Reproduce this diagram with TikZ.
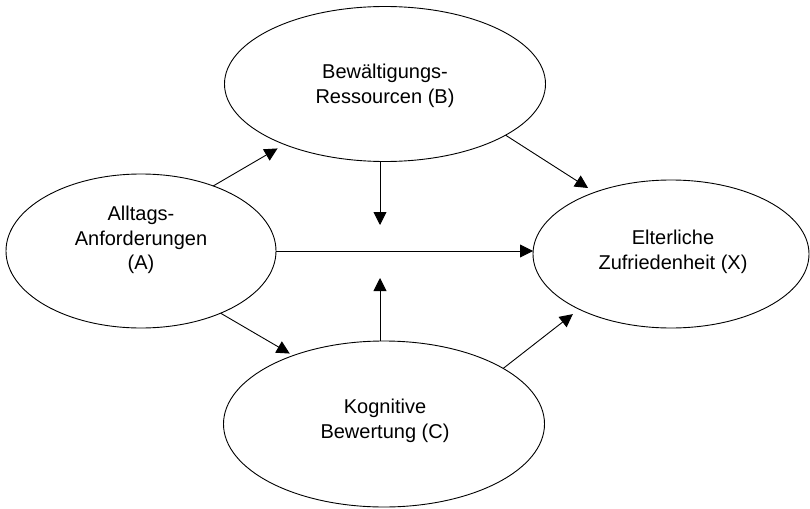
\documentclass[tikz,border=0pt]{standalone}
\usepackage{fontspec}
\setmainfont{Liberation Sans}
\usetikzlibrary{shapes.geometric,arrows.meta}
\begin{document}
\begin{tikzpicture}[x=1pt,y=-1pt,
  ell/.style={draw,ellipse,line width=0.9pt,inner sep=0pt,outer sep=0pt},
  lbl/.style={align=center,font=\fontsize{20}{24.5}\selectfont},
  arr/.style={line width=0.9pt,-{Triangle[length=13pt,width=13pt]}}]
\useasboundingbox (0,0) rectangle (810,508);
% ellipses
\node[ell,minimum width=321pt,minimum height=155pt] (B) at (385,84) {};
\node[ell,minimum width=270pt,minimum height=154pt] (A) at (141,251) {};
\node[ell,minimum width=276pt,minimum height=148pt] (X) at (671,254) {};
\node[ell,minimum width=321pt,minimum height=166pt] (C) at (384,424) {};
% labels
\node[lbl] (Bt) at (385,86) {Bewältigungs-\\Ressourcen (B)};
\node[lbl] (At) at (141,240) {Alltags-\\Anforderungen\\(A)};
\node[lbl] (Xt) at (673,252) {Elterliche\\Zufriedenheit (X)};
\node[lbl] (Ct) at (385,421) {Kognitive\\Bewertung (C)};
% free ends of vertical arrows
\coordinate (m1) at (380,225);
\coordinate (m2) at (380,278);
% connectors
\draw[arr,shorten >=8pt] (A.42) -- (B.211);
\draw[arr,shorten >=8pt] (B.337) -- (X.141);
\draw[arr] (A.east) -- (A.east -| X.west);
\draw[arr] (B.south -| m1) -- (m1);
\draw[arr] (C.north -| m2) -- (m2);
\draw[arr,shorten >=4pt] (A.322) -- (C.143.5);
\draw[arr,shorten >=8pt] (C.25) -- (X.211.6);
\end{tikzpicture}
\end{document}
